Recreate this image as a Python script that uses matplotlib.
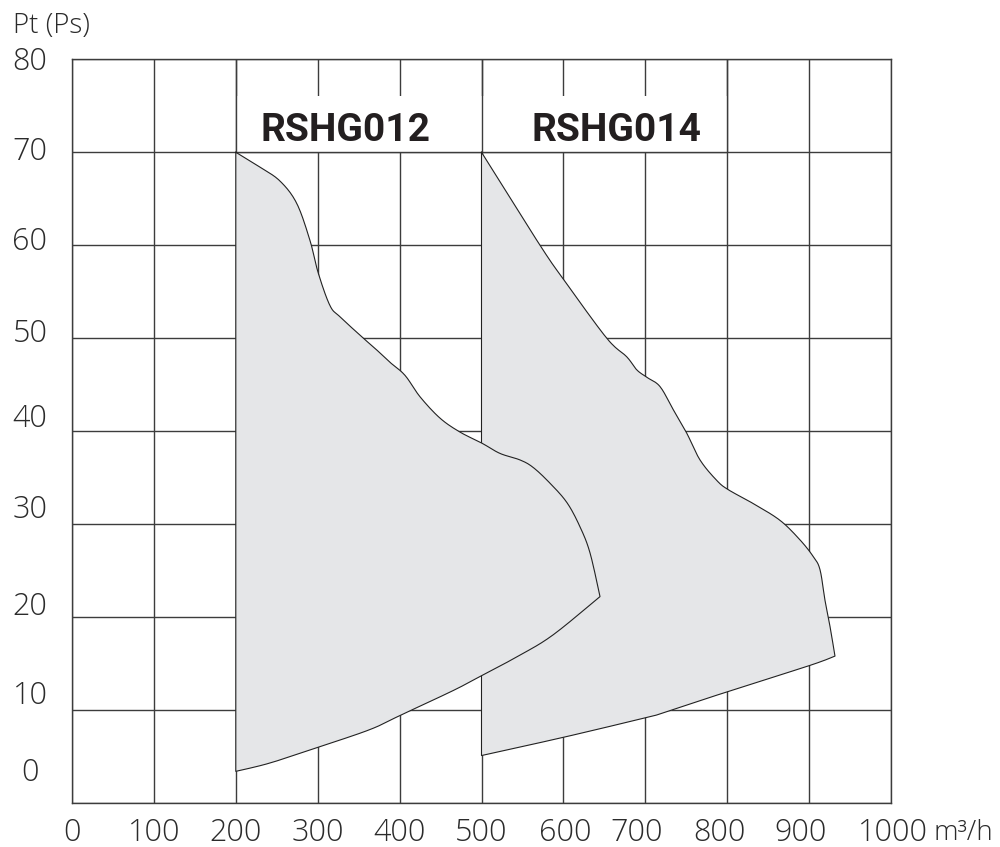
import matplotlib
matplotlib.use('Agg')
import numpy as np
import matplotlib.pyplot as plt
import matplotlib.transforms as mtransforms

plt.rcParams['font.family'] = ['Open Sans', 'DejaVu Sans']

# axis ticks / labels
flow_ticks = [0, 100, 200, 300, 400, 500, 600, 700, 800, 900, 1000]
flow_labels = ['0', '100', '200', '300', '400', '500', '600', '700', '800', '900', '1000']
pt_ticks = [0, 10, 20, 30, 40, 50, 60, 70, 80]
pt_labels = ['0', '10', '20', '30', '40', '50', '60', '70', '80']

# RSHG012 envelope: upper curve (left -> tip), lower curve (left -> tip)
g012_top_x = [200, 229.5, 254, 274.4, 290.6, 300.7, 315, 327.2, 355.7, 370, 388.3, 406.6,
              424.9, 449.3, 473.7, 500.6, 522.6, 547, 563, 583.6, 604.4, 620.3, 632.5, 644.7]
g012_top_y = [70, 68.4, 66.9, 64.5, 60.5, 57.0, 53.5, 52.3, 50.0, 48.9, 47.4, 46.0,
              43.7, 41.4, 39.9, 38.7, 37.6, 36.9, 36.1, 34.4, 32.3, 29.7, 26.9, 22.2]
g012_bot_x = [200, 241.8, 300.7, 363.9, 402.6, 465.6, 500.2, 547, 587.7, 644.7]
g012_bot_y = [3.4, 4.3, 6.0, 7.9, 9.5, 12.1, 13.7, 15.9, 18.1, 22.2]

# RSHG014 envelope
g014_top_x = [500, 571.4, 602, 652.9, 677.3, 689.5, 701.7, 717.9, 734.2, 750.5, 766.8,
              787.2, 801.3, 831.9, 864.5, 888.9, 905.1, 913.3, 919.4, 925.5, 931.6]
g014_top_y = [70, 60.0, 56.1, 50.0, 48.0, 46.6, 45.8, 44.8, 42.3, 39.8, 36.9,
              34.7, 33.7, 32.2, 30.4, 28.3, 26.5, 25.1, 21.8, 19.0, 15.8]
g014_bot_x = [500, 601.9, 701.7, 726.1, 801.3, 901.1, 931.6]
g014_bot_y = [5.1, 7.1, 9.2, 9.8, 12.0, 14.8, 15.8]

models = ['RSHG012', 'RSHG014']
model_label_x = [334, 665]

grid_col = '#3c3c3c'
fill_col = '#e5e6e8'
txt_col = '#2b2b2b'


def smooth(xs, ys, n=12):
    # catmull-rom through the read points, only for drawing
    p = np.column_stack([xs, ys]).astype(float)
    p = np.vstack([p[0], p, p[-1]])
    out = []
    for i in range(1, len(p) - 2):
        p0, p1, p2, p3 = p[i - 1], p[i], p[i + 1], p[i + 2]
        for t in np.linspace(0, 1, n, endpoint=False):
            t2, t3 = t * t, t * t * t
            out.append(0.5 * ((2 * p1) + (-p0 + p2) * t + (2 * p0 - 5 * p1 + 4 * p2 - p3) * t2
                              + (-p0 + 3 * p1 - 3 * p2 + p3) * t3))
    out.append(p[-2])
    out = np.array(out)
    return out[:, 0], out[:, 1]


def envelope(top_x, top_y, bot_x, bot_y):
    tx, ty = smooth(top_x, top_y)
    bx, by = smooth(bot_x, bot_y)
    xs = np.concatenate([tx, bx[::-1], [tx[0]]])
    ys = np.concatenate([ty, by[::-1], [ty[0]]])
    return xs, ys


fig = plt.figure(figsize=(10, 8.47), dpi=100)
ax = fig.add_axes([0.072, 0.052, 0.819, 0.878])
ax.set_xlim(0, 1000)
ax.set_ylim(0, 80)
ax.set_xticks(flow_ticks)
ax.set_yticks(pt_ticks)
ax.tick_params(length=0, labelbottom=False, labelleft=False)
ax.grid(True, color=grid_col, linewidth=1.0, zorder=0)
ax.set_axisbelow(True)
for s in ax.spines.values():
    s.set_color(grid_col)
    s.set_linewidth(1.0)

# RSHG014 goes under, RSHG012 is laid on top of it
z = 2
for tx, ty, bx, by in [(g014_top_x, g014_top_y, g014_bot_x, g014_bot_y),
                       (g012_top_x, g012_top_y, g012_bot_x, g012_bot_y)]:
    xs, ys = envelope(tx, ty, bx, by)
    ax.fill(xs, ys, color=fill_col, zorder=z, linewidth=0)
    ax.plot(xs, ys, color='#222222', linewidth=0.8, zorder=z + 0.1)
    z += 0.2

# white band behind the model names
ax.fill_between([200, 800], 70, 76, color='white', zorder=1, linewidth=0)
ax.vlines([200, 500, 800], 70, 80, color=grid_col, linewidth=1.0, zorder=1.2)
ax.hlines(70, 200, 800, color=grid_col, linewidth=1.0, zorder=1.2)

for name, xm in zip(models, model_label_x):
    ax.text(xm, 72.3, name, ha='center', va='center', fontsize=28,
            fontweight='bold', family=['Roboto', 'DejaVu Sans'], color='#231f20', zorder=4)

# tick labels, placed by hand like the original
ytr = mtransforms.blended_transform_factory(fig.transFigure, ax.transData)
y_shift = [3.2, 1.5, 1.1, 1.5, 1.3, 0.5, 0.3, 0.0, -0.3]
for v, lab, dy in zip(pt_ticks, pt_labels, y_shift):
    fig.text(0.030, v + dy, lab, transform=ytr, ha='center', va='center',
             fontsize=22, fontweight='light', color=txt_col)

xtr = mtransforms.blended_transform_factory(ax.transData, fig.transFigure)
x_shift = [0, 0, 0, 0, 0, 0, 2, -10, -10, -10, 2]
for v, lab, dx in zip(flow_ticks, flow_labels, x_shift):
    fig.text(v + dx, 0.0165, lab, transform=xtr, ha='center', va='center',
             fontsize=22, fontweight='light', color=txt_col)
fig.text(0.934, 0.0165, 'm³/h', ha='left', va='center', fontsize=20,
         fontweight='light', color=txt_col)

fig.text(0.013, 0.969, 'Pt (Ps)', ha='left', va='center', fontsize=20,
         fontweight='light', color=txt_col)

fig.savefig('out.png', dpi=100)
